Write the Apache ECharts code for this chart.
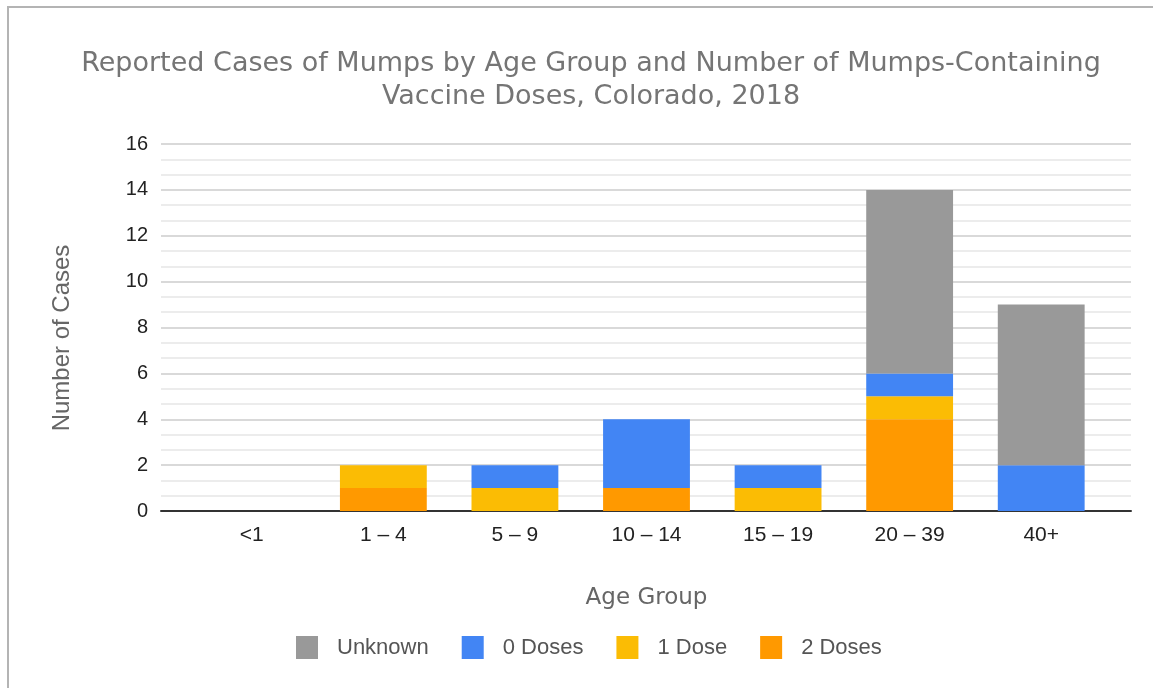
<!DOCTYPE html>
<html>
<head>
<meta charset="utf-8">
<script src="https://cdn.jsdelivr.net/npm/echarts@6/dist/echarts.min.js"></script>
<style>
  html, body { margin: 0; padding: 0; background: #fff; }
  #chart { width: 1153px; height: 688px; }
</style>
</head>
<body>
<div id="chart"></div>
<script>
// age groups on the x axis
var ageGroups = ["<1", "1 – 4", "5 – 9", "10 – 14", "15 – 19", "20 – 39", "40+"];
// cases per dose status (stacked bottom to top)
var twoDoses = [0, 1, 0, 1, 0, 4, 0];
var oneDose  = [0, 1, 1, 0, 1, 1, 0];
var zeroDoses = [0, 0, 1, 3, 1, 1, 2];
var unknown  = [0, 0, 0, 0, 0, 8, 7];
var legendOrder = ["Unknown", "0 Doses", "1 Dose", "2 Doses"];

var chart = echarts.init(document.getElementById("chart"));

function bar(name, data, color) {
  return {
    name: name,
    type: "bar",
    stack: "total",
    xAxisIndex: 1,
    yAxisIndex: 1,
    data: data,
    barCategoryGap: "34%",
    itemStyle: { color: color }
  };
}

var option = {
  backgroundColor: "#fff",
  animation: false,
  title: {
    text: "Reported Cases of Mumps by Age Group and Number of Mumps-Containing\nVaccine Doses, Colorado, 2018",
    left: 586,
    textAlign: "center",
    top: 42,
    textStyle: {
      fontFamily: "DejaVu Sans",
      fontWeight: "normal",
      fontSize: 27,
      lineHeight: 33,
      color: "#757575"
    }
  },
  graphic: [{
    type: "rect",
    shape: { x: 8, y: 7, width: 1200, height: 720 },
    style: { fill: null, stroke: "#b4b4b4", lineWidth: 2 },
    silent: true
  }, {
    type: "text",
    x: 62,
    y: 338,
    rotation: Math.PI / 2,
    silent: true,
    style: {
      text: "Number of Cases",
      align: "center",
      verticalAlign: "middle",
      font: "24px 'Liberation Sans'",
      fill: "#666"
    }
  }],
  legend: {
    data: legendOrder,
    left: 291,
    top: 631,
    itemWidth: 22,
    itemHeight: 23,
    itemGap: 33,
    icon: "rect",
    textStyle: { fontFamily: "Liberation Sans", fontSize: 22, color: "#555", padding: [0, 0, 0, 14] }
  },
  grid: [
    { left: 161, right: 22, top: 144, bottom: 177 },
    { left: 186, right: 46, top: 144, bottom: 177 }
  ],
  xAxis: [{
    type: "value",
    gridIndex: 0,
    min: 0,
    max: 1,
    axisLine: { show: true, onZero: false, lineStyle: { color: "#333", width: 2 } },
    axisTick: { show: false },
    axisLabel: { show: false },
    splitLine: { show: false }
  }, {
    type: "category",
    gridIndex: 1,
    data: ageGroups,
    name: "Age Group",
    nameLocation: "middle",
    nameGap: 76,
    nameTextStyle: { fontFamily: "DejaVu Sans", fontSize: 23, color: "#666" },
    axisLine: { show: false },
    axisTick: { show: false },
    axisLabel: { fontFamily: "Liberation Sans", fontSize: 21, color: "#222", margin: 14 }
  }],
  yAxis: [{
    type: "value",
    gridIndex: 0,
    min: 0,
    max: 16,
    interval: 2,
    axisLine: { show: false },
    axisTick: { show: false },
    axisLabel: { fontFamily: "Liberation Sans", fontSize: 20, color: "#222", margin: 13 },
    splitLine: { lineStyle: { color: "#cccccc", width: 1.5 } },
    minorTick: { show: false, splitNumber: 3 },
    minorSplitLine: { show: true, lineStyle: { color: "#e6e6e6", width: 1.5 } }
  }, {
    type: "value",
    gridIndex: 1,
    min: 0,
    max: 16,
    interval: 2,
    show: false,
    splitLine: { show: false }
  }],
  series: [
    bar("2 Doses", twoDoses, "#ff9900"),
    bar("1 Dose", oneDose, "#fbbc04"),
    bar("0 Doses", zeroDoses, "#4285f4"),
    bar("Unknown", unknown, "#999999")
  ]
};

chart.setOption(option);
</script>
</body>
</html>
